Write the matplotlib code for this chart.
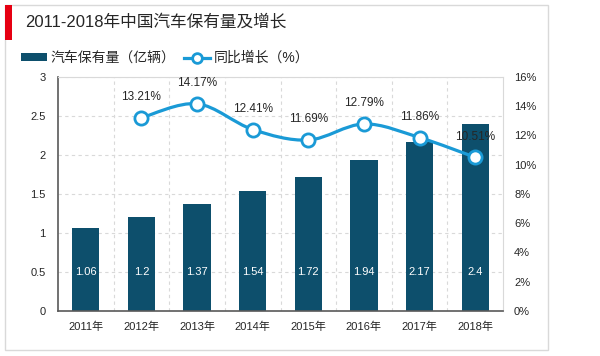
import matplotlib
matplotlib.use('Agg')
import matplotlib.pyplot as plt
from matplotlib.patches import Rectangle, PathPatch
from matplotlib.path import Path
from matplotlib.lines import Line2D
import numpy as np

plt.rcParams['font.family'] = ['Liberation Sans', 'Noto Sans CJK SC']

years = ['2011年', '2012年', '2013年', '2014年', '2015年', '2016年', '2017年', '2018年']
stock = [1.06, 1.2, 1.37, 1.54, 1.72, 1.94, 2.17, 2.4]
growth_years = [1, 2, 3, 4, 5, 6, 7]
growth = [13.21, 14.17, 12.41, 11.69, 12.79, 11.86, 10.51]

bar_color = '#0d4f6c'
line_color = '#1a9ad6'
text_color = '#262626'


def smooth_path(xs, ys, t=0.5):
    # catmull-rom style cubic bezier through the points
    pts = np.column_stack([xs, ys]).astype(float)
    verts = [pts[0]]
    codes = [Path.MOVETO]
    n = len(pts)
    for i in range(n - 1):
        p0 = pts[max(i - 1, 0)]
        p1 = pts[i]
        p2 = pts[i + 1]
        p3 = pts[min(i + 2, n - 1)]
        c1 = p1 + (p2 - p0) * t / 3
        c2 = p2 - (p3 - p1) * t / 3
        verts += [c1, c2, p2]
        codes += [Path.CURVE4] * 3
    return Path(verts, codes)


fig = plt.figure(figsize=(6, 3.56), dpi=100)

# outer frame + red marker
W, H = 600, 356
fig.add_artist(Rectangle((5 / W, 1 - 350 / H), 543 / W, 345 / H, transform=fig.transFigure,
                         fill=False, edgecolor='#d9d9d9', linewidth=1))
fig.add_artist(Rectangle((5 / W, 1 - 40 / H), 7 / W, 35 / H, transform=fig.transFigure,
                         facecolor='#e60012', edgecolor='none'))
fig.text(25 / W, 1 - 22 / H, '2011-2018年中国汽车保有量及增长', fontsize=12, va='center', ha='left',
         color=text_color)

ax = fig.add_axes([58 / W, 1 - 311 / H, 445 / W, 234 / H])
x = np.arange(len(years))
ax.bar(x, stock, width=0.49, color=bar_color, zorder=2)
for xi, v in zip(x, stock):
    ax.text(xi, 0.5, str(v), color='white', fontsize=8, ha='center', va='center', zorder=3)

ax.set_xlim(-0.5, len(years) - 0.5)
ax.set_ylim(0, 3)
ax.set_yticks([0, 0.5, 1, 1.5, 2, 2.5, 3])
ax.set_yticklabels(['0', '0.5', '1', '1.5', '2', '2.5', '3'])
ax.set_xticks(x)
ax.set_xticklabels(years)
ax.tick_params(axis='both', length=0, labelsize=8, colors=text_color)
ax.tick_params(axis='x', pad=8)
ax.tick_params(axis='y', pad=9)
ax.set_xticks(np.arange(0.5, len(years) - 0.5, 1), minor=True)
ax.tick_params(axis='x', which='minor', length=0)
ax.grid(axis='y', linestyle=(0, (3, 3)), color='#d9d9d9', linewidth=0.8, zorder=0)
ax.grid(axis='x', which='minor', linestyle=(0, (3, 3)), color='#d9d9d9', linewidth=0.8, zorder=0)
ax.grid(axis='x', which='major', visible=False)
ax.spines['left'].set_color('#595959')
ax.spines['bottom'].set_color('#595959')
ax.spines['left'].set_linewidth(1.2)
ax.spines['bottom'].set_linewidth(1.2)
ax.spines['top'].set_color('#d9d9d9')
ax.spines['right'].set_color('#d9d9d9')

ax2 = ax.twinx()
ax2.add_patch(PathPatch(smooth_path(growth_years, growth), facecolor='none',
                        edgecolor=line_color, linewidth=2.3, zorder=3, capstyle='round'))
ax2.plot(growth_years, growth, linestyle='none', marker='o', markersize=9.5,
         markerfacecolor='white', markeredgecolor=line_color, markeredgewidth=2, zorder=4)
for xi, v in zip(growth_years, growth):
    ax2.text(xi, v + 1.0, '%.2f%%' % v, fontsize=8.5, ha='center', va='bottom', color=text_color)
ax2.set_ylim(0, 16)
ax2.set_yticks(range(0, 17, 2))
ax2.set_yticklabels(['%d%%' % t for t in range(0, 17, 2)])
ax2.tick_params(axis='y', length=0, labelsize=8, colors=text_color, pad=8)
for s in ax2.spines.values():
    s.set_visible(False)

handles = [Rectangle((0, 0), 1, 1, facecolor=bar_color),
           Line2D([0], [0], color=line_color, linewidth=2.3, marker='o', markersize=7,
                  markerfacecolor='white', markeredgecolor=line_color, markeredgewidth=2)]
fig.legend(handles, ['汽车保有量（亿辆）', '同比增长（%）'], loc='center left',
           bbox_to_anchor=(8 / W, 1 - 58 / H), ncol=2, frameon=False, fontsize=10,
           handlelength=1.9, handleheight=0.45, columnspacing=0.6, handletextpad=0.25,
           labelcolor=text_color)

fig.savefig('out.png', dpi=100)
